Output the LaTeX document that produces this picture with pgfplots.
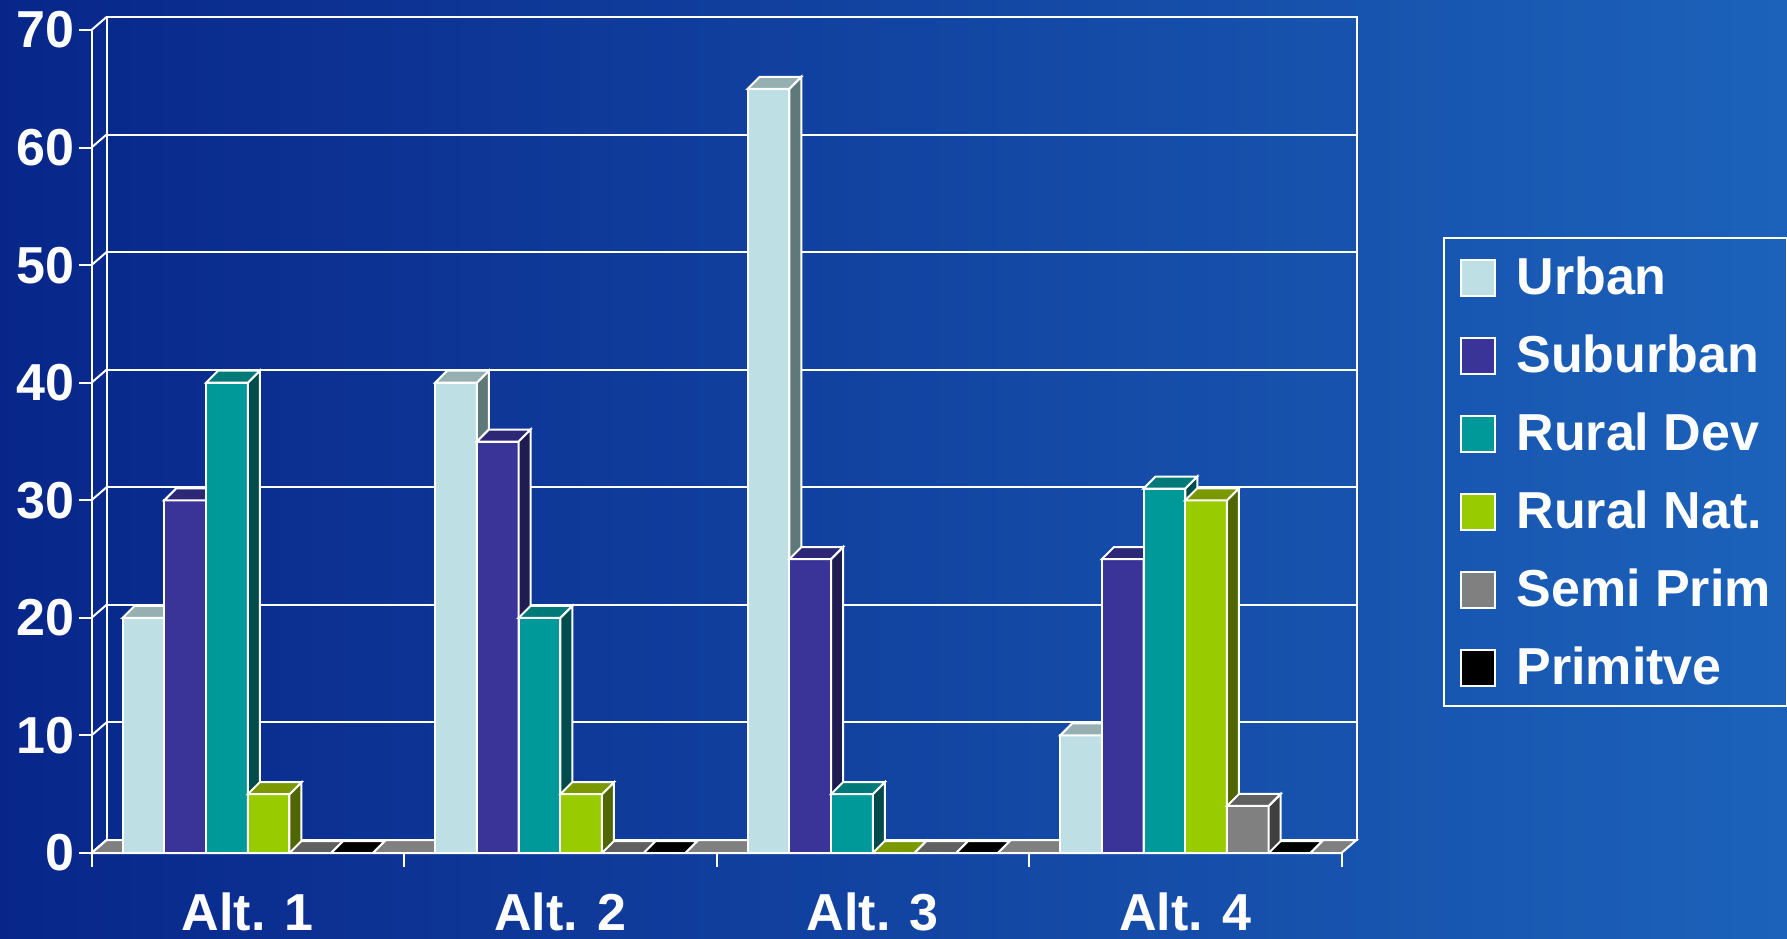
\documentclass[border=0pt]{standalone}
\usepackage{pgfplots}
\pgfplotsset{compat=1.18}
\usepackage{pgfplotstable}
\usepackage{fontspec}
\setmainfont{Liberation Sans}

\definecolor{bgL}{RGB}{8,38,138}
\definecolor{bgR}{RGB}{28,98,186}
\definecolor{urbF}{RGB}{190,224,228}
\definecolor{urbT}{RGB}{150,176,178}
\definecolor{urbS}{RGB}{95,120,122}
\definecolor{subF}{RGB}{58,52,152}
\definecolor{subT}{RGB}{44,40,118}
\definecolor{subS}{RGB}{30,28,80}
\definecolor{rdF}{RGB}{0,153,153}
\definecolor{rdT}{RGB}{0,122,120}
\definecolor{rdS}{RGB}{0,76,76}
\definecolor{rnF}{RGB}{153,204,0}
\definecolor{rnT}{RGB}{122,153,0}
\definecolor{rnS}{RGB}{80,102,0}
\definecolor{spF}{RGB}{128,128,128}
\definecolor{spT}{RGB}{96,96,96}
\definecolor{spS}{RGB}{64,64,64}
\definecolor{prF}{RGB}{0,0,0}

\pgfplotstableread{
x urban suburban ruraldev ruralnat semiprim primitive
0 20 30 40 5 0 0
1 40 35 20 5 0 0
2 65 25 5 0 0 0
3 10 25 31 30 4 0
}\data

% top face and (long, clipped at the floor) side face of a bar
\newcommand\declbarmark[3]{%
 \pgfdeclareplotmark{#1}{%
  \pgfsetlinewidth{1pt}%
  \pgfsetstrokecolor{white}%
  \pgfsetfillcolor{#3}%
  \pgfpathmoveto{\pgfqpoint{10.425pt}{0pt}}%
  \pgfpathlineto{\pgfqpoint{16.425pt}{6pt}}%
  \pgfpathlineto{\pgfqpoint{16.425pt}{-500pt}}%
  \pgfpathlineto{\pgfqpoint{10.425pt}{-500pt}}%
  \pgfpathclose
  \pgfusepath{fill,stroke}%
  \pgfsetfillcolor{#2}%
  \pgfpathmoveto{\pgfqpoint{-10.425pt}{0pt}}%
  \pgfpathlineto{\pgfqpoint{10.425pt}{0pt}}%
  \pgfpathlineto{\pgfqpoint{16.425pt}{6pt}}%
  \pgfpathlineto{\pgfqpoint{-4.425pt}{6pt}}%
  \pgfpathclose
  \pgfusepath{fill,stroke}%
 }}
\declbarmark{b3urb}{urbT}{urbS}
\declbarmark{b3sub}{subT}{subS}
\declbarmark{b3rd}{rdT}{rdS}
\declbarmark{b3rn}{rnT}{rnS}
\declbarmark{b3sp}{spT}{spS}
\pgfdeclareplotmark{b3pr}{%
  \pgfsetlinewidth{1pt}%
  \pgfsetstrokecolor{white}%
  \pgfsetfillcolor{prF}%
  \pgfpathmoveto{\pgfqpoint{-10.425pt}{0pt}}%
  \pgfpathlineto{\pgfqpoint{10.425pt}{0pt}}%
  \pgfpathlineto{\pgfqpoint{16.425pt}{6pt}}%
  \pgfpathlineto{\pgfqpoint{-4.425pt}{6pt}}%
  \pgfpathclose
  \pgfusepath{fill,stroke}%
}

\pgfplotsset{
  geom/.style={at={(45.75pt,42.5pt)}, anchor=south west,
    scale only axis, width=625pt, height=411.5pt,
    xmin=-0.5, xmax=3.5, ymin=0, ymax=70},
  b3/.style 2 args={ybar, bar shift=0pt, bar width=20.85pt, fill=#1, draw=white,
    line width=1pt, mark=#2, mark options={solid}},
  legsq/.style={legend image code/.code={\draw[fill=#1,draw=white,line width=1pt] (0pt,-9.5pt) rectangle (17pt,8.5pt);}},
}

\begin{document}
\begin{tikzpicture}
\fill[left color=bgL, right color=bgR] (0,0) rectangle (893.5pt,469pt);
% frame, walls, floor, ticks, legend
\begin{axis}[
  geom,
  clip=false,
  axis x line*=bottom, axis y line*=left,
  axis line style={white, line width=1pt, -},
  ytick={0,10,...,70},
  xtick={0,1,2,3}, xticklabels={Alt. 1,Alt. 2,Alt. 3,Alt. 4},
  tick align=outside,
  major tick length=6pt,
  tick style={white, line width=1pt},
  x tick style={draw=none},
  extra x ticks={-0.5,0.5,1.5,2.5,3.5}, extra x tick labels={},
  extra x tick style={x tick style={draw=white}, major tick length=7pt},
  ymajorgrids, major grid style={white, line width=1pt, xshift=7.5pt, yshift=6.5pt},
  /pgf/number format/assume math mode=true,
  tick label style={font=\fontsize{26}{30}\selectfont\bfseries, text=white},
  yticklabel style={inner sep=0pt, xshift=-2.5pt},
  xticklabel style={inner sep=0pt, yshift=-13.5pt},
  legend style={at={(1.0808,0.7485)}, anchor=north west, draw=white, line width=1pt,
    fill=none, text=white, font=\fontsize{26}{30}\selectfont\bfseries,
    inner xsep=8pt, inner ysep=9.5pt, row sep=18.6pt, column sep=10.5pt,
    nodes={inner sep=0pt}},
  legend cell align=left,
]
\draw[fill=spF, draw=white, line width=1pt] (axis cs:-0.5,0) -- (axis cs:3.5,0)
  -- ([shift={(7.5pt,6.5pt)}]axis cs:3.5,0) -- ([shift={(7.5pt,6.5pt)}]axis cs:-0.5,0) -- cycle;
\draw[white, line width=1pt] ([shift={(7.5pt,6.5pt)}]axis cs:-0.5,0) rectangle ([shift={(7.5pt,6.5pt)}]axis cs:3.5,70);
\pgfplotsinvokeforeach{0,10,20,30,40,50,60,70}{
  \draw[white, line width=1pt] (axis cs:-0.5,#1) -- ([shift={(7.5pt,6.5pt)}]axis cs:-0.5,#1);
}
\addlegendimage{legsq=urbF}\addlegendentry{Urban}
\addlegendimage{legsq=subF}\addlegendentry{Suburban}
\addlegendimage{legsq=rdF}\addlegendentry{Rural Dev}
\addlegendimage{legsq=rnF}\addlegendentry{Rural Nat.}
\addlegendimage{legsq=spF}\addlegendentry{Semi Prim}
\addlegendimage{legsq=prF}\addlegendentry{Primitve}
\end{axis}
% bars
\begin{axis}[geom, hide axis, clip=true, clip marker paths=true]
\addplot[b3={urbF}{b3urb}] table[x expr=\thisrow{x}-0.3336, y=urban] {\data};
\addplot[b3={subF}{b3sub}] table[x expr=\thisrow{x}-0.2002, y=suburban] {\data};
\addplot[b3={rdF}{b3rd}] table[x expr=\thisrow{x}-0.0667, y=ruraldev] {\data};
\addplot[b3={rnF}{b3rn}] table[x expr=\thisrow{x}+0.0667, y=ruralnat] {\data};
\addplot[b3={spF}{b3sp}] table[x expr=\thisrow{x}+0.2002, y=semiprim] {\data};
\addplot[b3={prF}{b3pr}] table[x expr=\thisrow{x}+0.3336, y=primitive] {\data};
\end{axis}
\pgfresetboundingbox
\path (0,0) rectangle (893.5pt,469pt);
\end{tikzpicture}
\end{document}
